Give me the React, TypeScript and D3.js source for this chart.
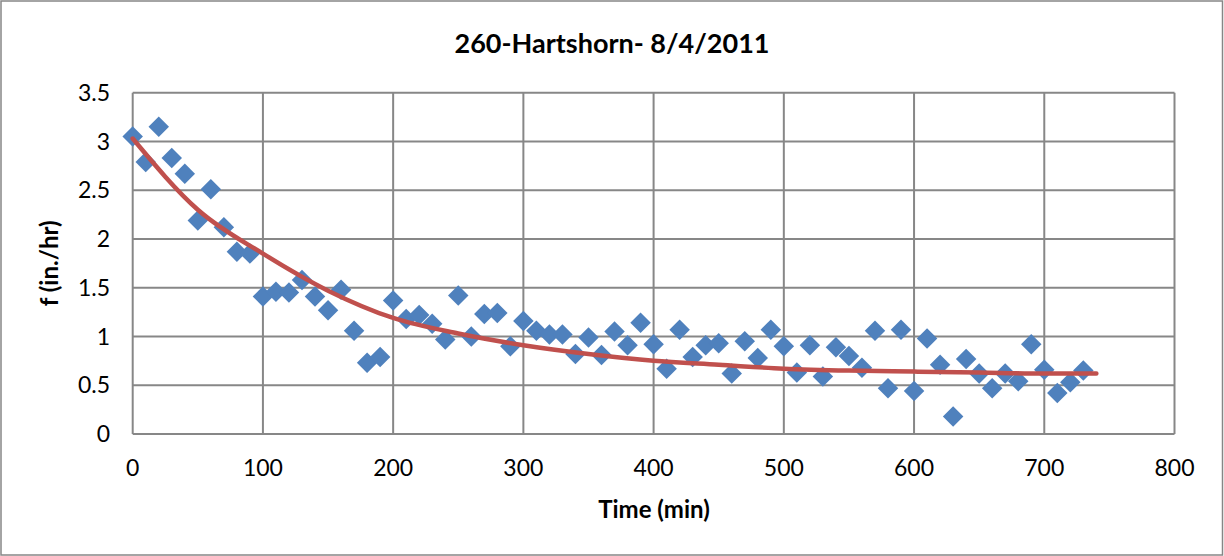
import React from 'react'
import * as d3 from 'd3'

// infiltration readings, one every 10 minutes
const times = d3.range(0, 740, 10)
const rates = [
  3.05, 2.79, 3.15, 2.83, 2.67, 2.19, 2.51, 2.12, 1.87, 1.85,
  1.41, 1.46, 1.45, 1.58, 1.41, 1.27, 1.48, 1.06, 0.73, 0.79,
  1.37, 1.18, 1.22, 1.13, 0.97, 1.42, 1.0, 1.23, 1.24, 0.9,
  1.16, 1.06, 1.02, 1.02, 0.82, 0.99, 0.81, 1.05, 0.91, 1.14,
  0.92, 0.67, 1.07, 0.79, 0.91, 0.93, 0.62, 0.95, 0.78, 1.07,
  0.9, 0.63, 0.91, 0.59, 0.89, 0.8, 0.68, 1.06, 0.47, 1.07,
  0.44, 0.98, 0.71, 0.18, 0.77, 0.62, 0.47, 0.62, 0.54, 0.92,
  0.66, 0.42, 0.53, 0.65,
]

// fitted curve
const trendTimes = [0, 50, 100, 150, 200, 250, 300, 350, 400, 450, 500, 550, 600, 650, 700, 740]
const trendRates = [3.03, 2.3, 1.85, 1.47, 1.19, 1.03, 0.91, 0.82, 0.75, 0.71, 0.67, 0.65, 0.64, 0.63, 0.62, 0.62]

const xTicks = [0, 100, 200, 300, 400, 500, 600, 700, 800]
const yTicks = [0, 0.5, 1, 1.5, 2, 2.5, 3, 3.5]

const W = 1224
const H = 556
const font = 'Lato, "Open Sans", sans-serif'

const App: React.FC = () => {
  const x = d3.scaleLinear([0, 800], [132.7, 1174.5])
  const y = d3.scaleLinear([0, 3.5], [434, 92.7])

  const trend = d3.line<number>()
    .x((d, i) => x(trendTimes[i]))
    .y((d) => y(d))
    .curve(d3.curveMonotoneX)(trendRates)

  const diamond = d3.symbol(d3.symbolSquare, 210)()

  return (
    <svg width={W} height={H} style={{ position: 'absolute', left: 0, top: 0 }}>
      <rect x={1} y={1} width={W - 2.5} height={H - 2} fill="#fff" stroke="#868686" strokeWidth={1.5} />
      <text x={612} y={53} textAnchor="middle" fontFamily={font} fontWeight="bold" fontSize={27}>
        260-Hartshorn- 8/4/2011
      </text>

      {yTicks.map((t) => (
        <g key={'y' + t}>
          <line x1={x(0)} x2={x(800)} y1={y(t)} y2={y(t)} stroke="#878787" strokeWidth={2} />
          <text x={110} y={y(t)} dy="0.35em" textAnchor="end" fontFamily={font} fontSize={23}>
            {t}
          </text>
        </g>
      ))}
      {xTicks.map((t) => (
        <g key={'x' + t}>
          <line x1={x(t)} x2={x(t)} y1={y(0)} y2={y(3.5)} stroke="#878787" strokeWidth={2} />
          <text x={x(t)} y={468} dy="0.35em" textAnchor="middle" fontFamily={font} fontSize={23}>
            {t}
          </text>
        </g>
      ))}

      {rates.map((r, i) => (
        <path key={i} d={diamond ?? ''} fill="#4F81BD"
          transform={`translate(${x(times[i])},${y(r)}) rotate(45)`} />
      ))}

      <path d={trend ?? ''} fill="none" stroke="#C0504D" strokeWidth={4.5} strokeLinecap="round" />

      <text x={654} y={510} dy="0.35em" textAnchor="middle" fontFamily={font} fontWeight="bold" fontSize={24}>
        Time (min)
      </text>
      <text transform={`translate(50,${(y(0) + y(3.5)) / 2}) rotate(-90)`} dy="0.35em" textAnchor="middle"
        fontFamily={font} fontWeight="bold" fontSize={24}>
        f (in./hr)
      </text>
    </svg>
  )
}

export default App
